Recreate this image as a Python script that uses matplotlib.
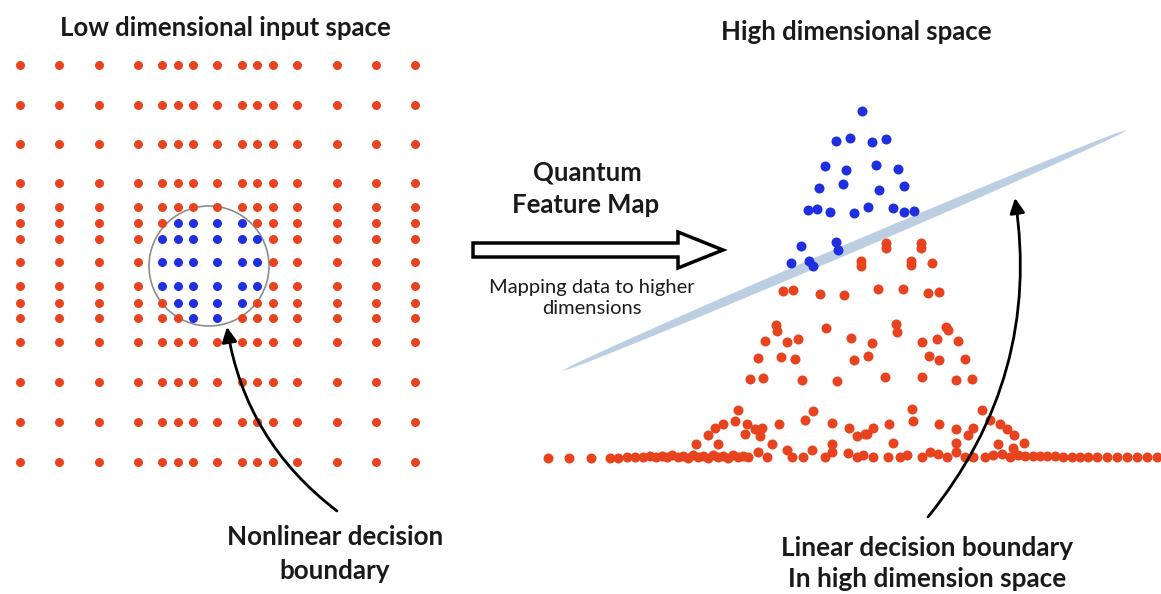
import numpy as np
import matplotlib
matplotlib.use('Agg')
from matplotlib import pyplot as plt
from matplotlib.patches import Circle, FancyArrow, Polygon

plt.rcParams['font.family'] = ['Lato', 'DejaVu Sans']

RED = '#E8431F'
BLUE = '#1F2FE0'
INK = '#1a1a1a'

# left panel: grid of the input space (column / row positions)
grid_cols = [20, 59, 99, 138, 162, 178, 193, 217, 242, 257, 273, 297, 337, 376, 415]
grid_rows = [65, 105, 144, 183, 207, 223, 239, 262, 286, 303, 318, 342, 382, 422, 462]
circle_center = (209, 266)
circle_radius = 57

# right panel: mapped points
blue_x = [862, 836, 850, 872, 886, 825, 846, 876, 898, 819, 843, 879, 904,
          808, 817, 830, 854, 868, 893, 904, 914, 801, 836, 838, 791, 809, 813]
blue_y = [111, 141, 138, 142, 139, 166, 170, 165, 169, 188, 184, 190, 186,
          210, 209, 212, 213, 207, 208, 212, 211, 246, 242, 250, 263, 261, 266]

red_x = [886, 886, 921, 921, 861, 861, 911, 911, 932,
         783, 793, 820, 844, 878, 903, 928, 939,
         776, 777, 826, 896, 897, 946, 948,
         765, 787, 798, 851, 872, 922, 937, 958,
         758, 781, 795, 854, 868, 929, 939, 965,
         750, 763, 802, 837, 885, 922, 956, 972,
         738, 813, 805, 735, 723, 715, 747, 755, 762, 779, 832, 849, 857, 865,
         708, 745, 760, 696, 718, 772, 832,
         912, 982, 913, 889, 939, 990, 1000, 1007, 1014, 956, 873, 867, 973, 968,
         893, 956, 998, 1024, 1013]
red_y = [243, 248, 243, 248, 261, 266, 261, 265, 263,
         291, 290, 294, 295, 289, 289, 293, 292,
         325, 331, 328, 324, 332, 327, 330,
         341, 342, 339, 338, 343, 342, 339, 341,
         358, 357, 359, 360, 356, 356, 360, 359,
         379, 378, 380, 381, 377, 377, 380, 379,
         410, 411, 420, 421, 424, 428, 424, 429, 428, 424, 423, 428, 436, 434,
         435, 434, 436, 444, 444, 444, 444,
         409, 410, 421, 424, 424, 420, 424, 429, 435, 429, 428, 434, 428, 435,
         443, 443, 444, 443, 448]

# bottom row of the mapped points
base_x = [548, 569, 591, 610, 618, 627, 635, 643, 650, 656, 662, 667, 672, 678,
          683, 688, 693, 698, 703, 708, 713, 718, 723, 728, 733, 738, 743, 748,
          758, 767, 787, 792, 803, 812, 825, 832, 848, 857, 863,
          873, 888, 900, 907, 922, 930, 938, 947, 956, 965, 973, 985, 993, 1002,
          1010, 1018, 1025, 1033, 1040, 1047, 1055, 1063, 1072, 1080, 1088, 1097,
          1107, 1117, 1127, 1137, 1147, 1157]
base_y = [458, 458, 458, 458, 458, 457, 457, 457, 456, 457, 456, 457, 455, 457,
          456, 458, 455, 457, 456, 458, 455, 457, 456, 458, 455, 457, 456, 457,
          452, 457, 450, 457, 457, 450, 457, 452, 453, 457, 455,
          457, 457, 457, 455, 457, 452, 454, 457, 452, 457, 457, 457, 455, 454,
          457, 455, 456, 456, 456, 456, 456, 457, 457, 457, 457, 457,
          457, 457, 457, 457, 457, 457]

fig = plt.figure(figsize=(11.61, 5.94), dpi=100)
ax = fig.add_axes([0, 0, 1, 1])
ax.set_xlim(0, 1161)
ax.set_ylim(594, 0)
ax.axis('off')

# input grid, blue inside the circle
gx, gy = np.meshgrid(grid_cols, grid_rows)
gx = gx.ravel()
gy = gy.ravel()
inside = np.hypot(gx - circle_center[0], gy - circle_center[1]) < circle_radius
ax.scatter(gx[~inside], gy[~inside], s=42, color=RED, lw=0, zorder=3)
ax.scatter(gx[inside], gy[inside], s=42, color=BLUE, lw=0, zorder=3)
ax.add_patch(Circle(circle_center, 60, fill=False, ec='#8c8c8c', lw=1.2, zorder=2))

# separating plane
x0, y0, x1, y1 = 562, 371, 1127, 130
t = np.linspace(0, 1, 80)
cx = x0 + t * (x1 - x0)
cy = y0 + t * (y1 - y0)
L = np.hypot(x1 - x0, y1 - y0)
nx, ny = (y1 - y0) / L, -(x1 - x0) / L
hw = 5 * np.sqrt(np.sin(np.pi * t))
pts = np.concatenate([np.c_[cx + nx * hw, cy + ny * hw],
                      np.c_[cx - nx * hw, cy - ny * hw][::-1]])
ax.add_patch(Polygon(pts, closed=True, fc='#bccfe2', ec='none', zorder=1))

ax.scatter(red_x + base_x, red_y + base_y, s=52, color=RED, lw=0, zorder=3)
ax.scatter(blue_x, blue_y, s=52, color=BLUE, lw=0, zorder=3)

# feature map arrow
ax.add_patch(FancyArrow(473, 250, 250, 0, width=14, head_width=36, head_length=45,
                        length_includes_head=True, fc='white', ec='black', lw=2.5, zorder=2))

# curved arrows
ax.annotate('', xy=(227, 327), xytext=(337, 511),
            arrowprops=dict(arrowstyle='-|>,head_length=0.9,head_width=0.45', color='black',
                            lw=2, connectionstyle='arc3,rad=-0.2', shrinkA=0, shrinkB=0))
ax.annotate('', xy=(1015, 198), xytext=(928, 517),
            arrowprops=dict(arrowstyle='-|>,head_length=0.9,head_width=0.45', color='black',
                            lw=2, connectionstyle='arc3,rad=0.22', shrinkA=0, shrinkB=0))

# texts
ax.text(225, 28, 'Low dimensional input space', ha='center', va='center',
        fontsize=18.5, fontweight='bold', color=INK)
ax.text(856, 32, 'High dimensional space', ha='center', va='center',
        fontsize=18.5, fontweight='bold', color=INK)
ax.text(587, 172, 'Quantum', ha='center', va='center',
        fontsize=18.5, fontweight='bold', color=INK)
ax.text(586, 205, 'Feature Map', ha='center', va='center',
        fontsize=18.5, fontweight='bold', color=INK)
ax.text(592, 287, 'Mapping data to higher', ha='center', va='center',
        fontsize=14.5, color=INK)
ax.text(592, 309, 'dimensions', ha='center', va='center',
        fontsize=14.5, color=INK)
ax.text(335, 537, 'Nonlinear decision', ha='center', va='center',
        fontsize=18.7, fontweight='bold', color=INK)
ax.text(335, 571, 'boundary', ha='center', va='center',
        fontsize=18.7, fontweight='bold', color=INK)
ax.text(927, 548, 'Linear decision boundary', ha='center', va='center',
        fontsize=18.8, fontweight='bold', color=INK)
ax.text(927, 579, 'In high dimension space', ha='center', va='center',
        fontsize=18.8, fontweight='bold', color=INK)

fig.savefig('out.png', dpi=100)
